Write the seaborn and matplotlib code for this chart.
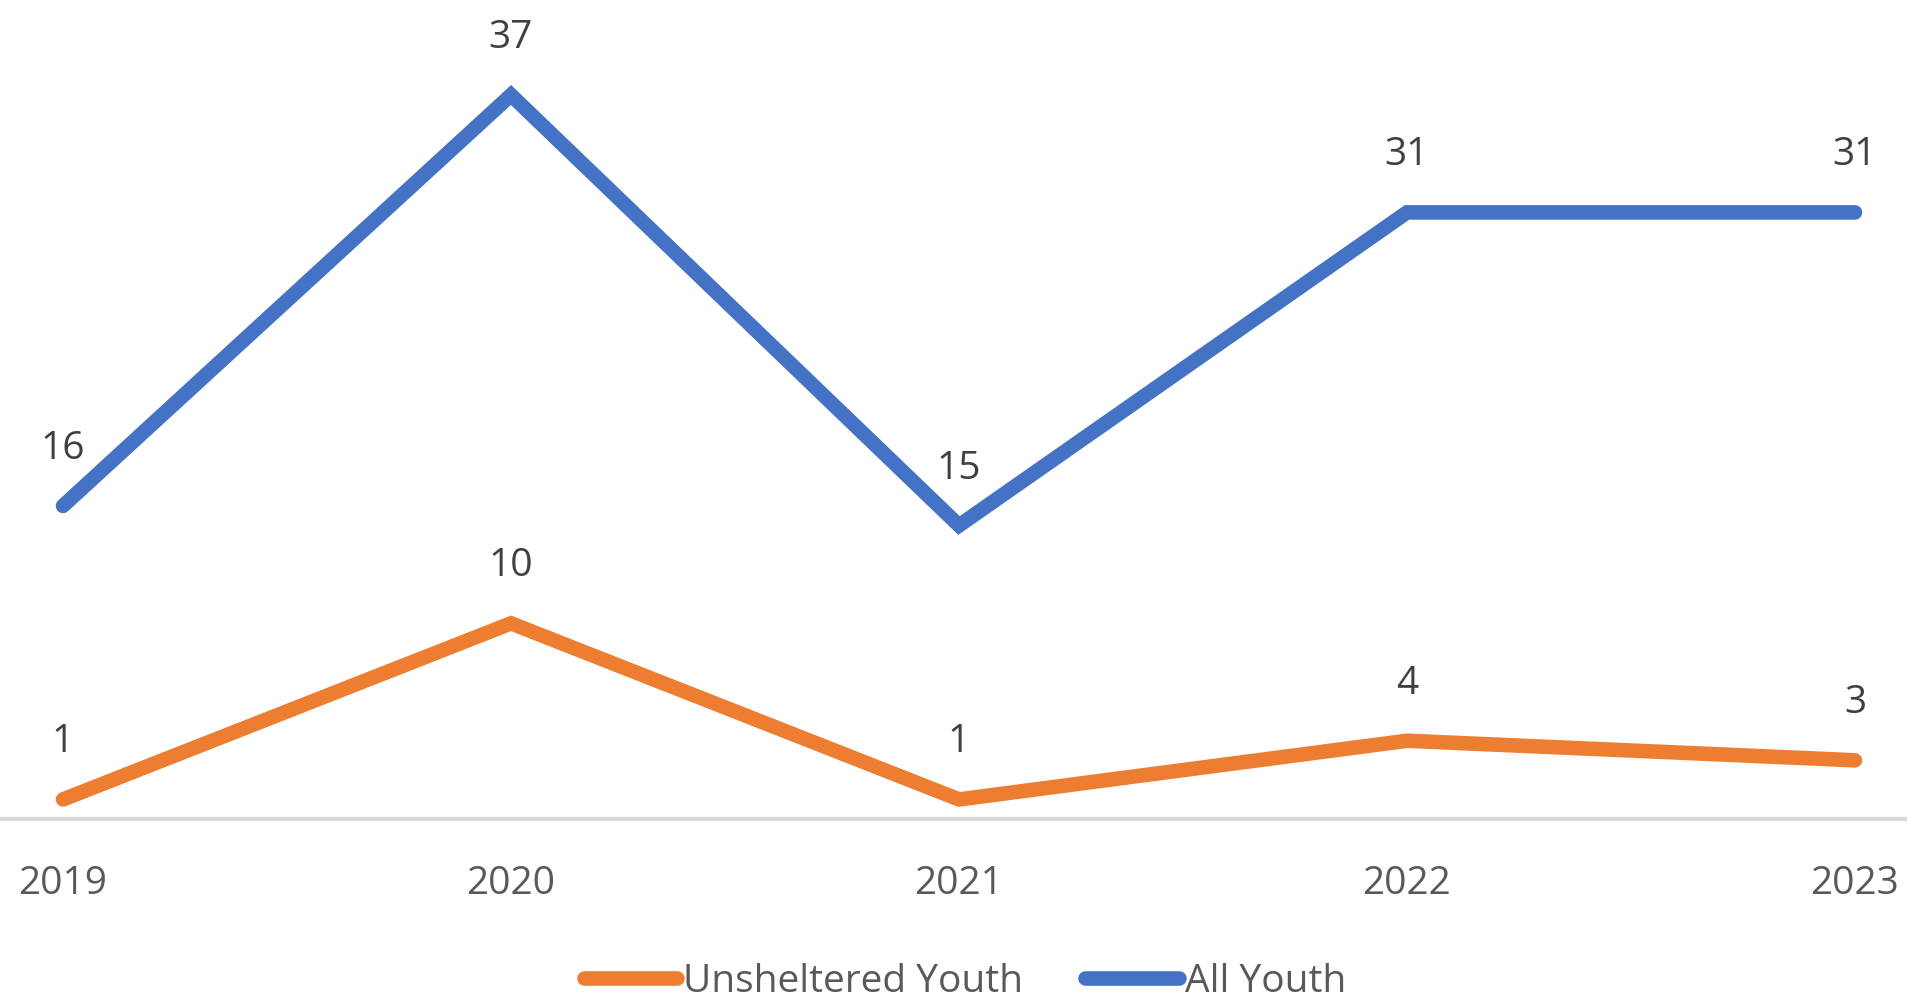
import matplotlib
matplotlib.use("Agg")
import matplotlib.pyplot as plt
import seaborn as sns
import pandas as pd

# data
years = [2019, 2020, 2021, 2022, 2023]
unsheltered_youth = [1, 10, 1, 4, 3]
all_youth = [16, 37, 15, 31, 31]

df = pd.DataFrame({
    "year": years * 2,
    "count": unsheltered_youth + all_youth,
    "group": ["Unsheltered Youth"] * 5 + ["All Youth"] * 5,
})

sns.set_style("white")
plt.rcParams["font.family"] = ["Open Sans", "DejaVu Sans"]

fig = plt.figure(figsize=(19.08, 9.99), dpi=100)
W, H = 1908, 999
x0, x1 = 63, 1855
ax = fig.add_axes([x0 / W, 1 - 819 / H, (x1 - x0) / W, (819 - 95) / H])

colors = {"Unsheltered Youth": "#ED7D31", "All Youth": "#4472C4"}
lw = 10.5
sns.lineplot(data=df, x="year", y="count", hue="group", palette=colors,
             linewidth=lw, ax=ax, legend=False, clip_on=False,
             solid_capstyle="round", solid_joinstyle="miter")

for series in (unsheltered_youth, all_youth):
    for x, y in zip(years, series):
        ax.annotate(str(y), (x, y), xytext=(0, 41), textcoords="offset points",
                    ha="center", va="center", fontsize=28, color="#404040")

ax.set_xlim(2019, 2023)
ax.set_ylim(0, 37)
ax.set_xticks(years)
ax.set_xticklabels([str(y) for y in years], fontsize=28, color="#595959")
ax.set_yticks([])
ax.tick_params(axis="x", length=0, pad=33)
ax.set_xlabel("")
ax.set_ylabel("")
for s in ["top", "left", "right", "bottom"]:
    ax.spines[s].set_visible(False)
# axis line across the whole width
ax.axhline(0, xmin=-x0 / (x1 - x0), xmax=(W - x0) / (x1 - x0),
           color="#D9D9D9", linewidth=3, clip_on=False, zorder=0)
ax.patch.set_alpha(0)

handles = [plt.Line2D([], [], color=colors[k], linewidth=lw, solid_capstyle="round")
           for k in ["Unsheltered Youth", "All Youth"]]
fig.legend(handles, ["Unsheltered Youth", "All Youth"], loc="center",
           bbox_to_anchor=(965 / W, 1 - 982 / H), ncol=2, frameon=False,
           fontsize=28, labelcolor="#595959", handlelength=2.4,
           handletextpad=0.15, columnspacing=1.6)

fig.savefig("out.png", dpi=100)
